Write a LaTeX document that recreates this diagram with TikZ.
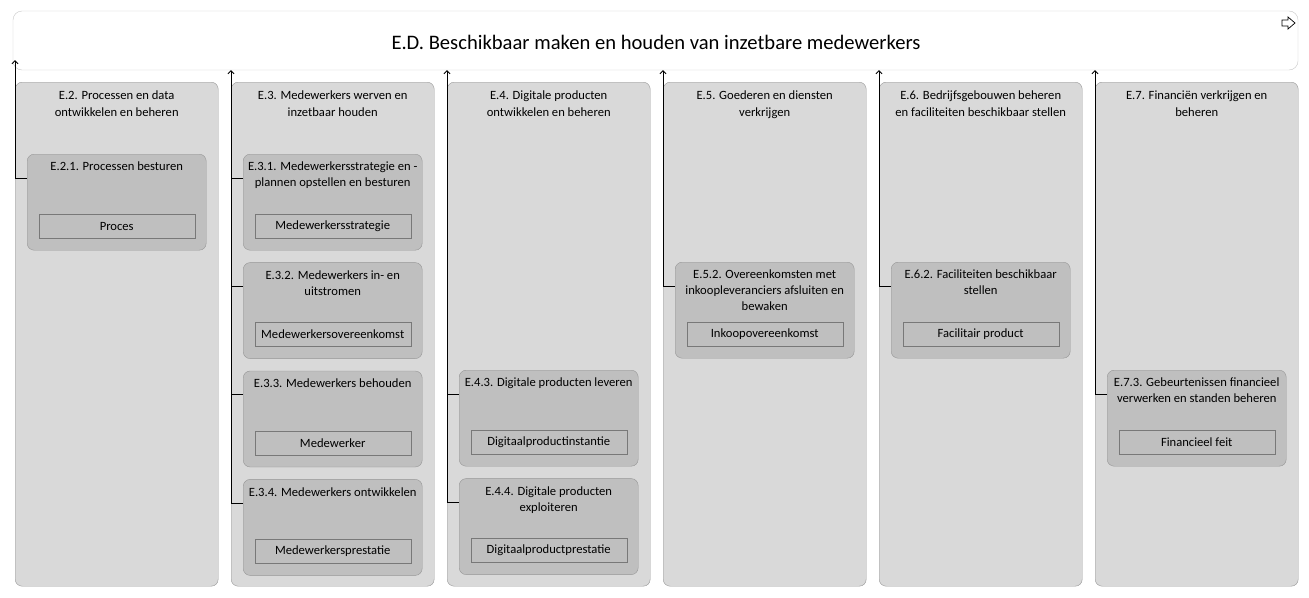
\documentclass[tikz,border=0pt]{standalone}
\usepackage{fontspec}
\setmainfont{Carlito}
\usetikzlibrary{positioning,calc,arrows.meta}
\definecolor{colfill}{RGB}{217,217,217}
\definecolor{subfill}{RGB}{191,191,191}
\definecolor{edge}{RGB}{150,150,150}
\definecolor{topedge}{RGB}{200,200,200}

\begin{document}
\begin{tikzpicture}[x=1pt,y=-1pt]

		\tikzset{line/.style={draw,line width=0.8pt}}
		\tikzset{arrow/.style={line,-{Straight Barb[length=3pt,width=6pt]}}}
		\tikzset{topbox/.style={draw=topedge,fill=white,rounded corners=9pt,minimum width=1285pt,minimum height=59pt,inner sep=0pt}}
		\tikzset{colbox/.style={draw=edge,fill=colfill,rounded corners=7pt,minimum width=203pt,minimum height=504pt,inner sep=0pt,anchor=north west}}
		\tikzset{subbox/.style={draw=edge,fill=subfill,rounded corners=7pt,minimum width=179pt,minimum height=96pt,inner sep=0pt}}
		\tikzset{objbox/.style={draw=edge!80!black,fill=subfill,minimum width=156pt,minimum height=24pt,inner sep=0pt,font=\fontsize{12.6}{15}\selectfont}}
		\tikzset{title/.style={align=center,inner sep=0pt,font=\fontsize{12.6}{16}\selectfont}}

		\useasboundingbox (0,0) rectangle (1309,597);

		% top
		\node[topbox] (ed) at (655.5,40.5) {};
		\node[font=\fontsize{20.6}{24}\selectfont, inner sep=0pt] (edt) at (656,42) {E.D. Beschikbaar maken en houden van inzetbare medewerkers};
		\draw[line width=0.7pt] (1282,20) -- (1288,20) -- (1288,17) -- (1295,23) -- (1288,29) -- (1288,26) -- (1282,26) -- cycle;

		% columns
		\node[colbox] (e2) at (15,82) {};
		\node[colbox, right=12.6pt of e2] (e3) {};
		\node[colbox, right=12.6pt of e3] (e4) {};
		\node[colbox, right=12.6pt of e4] (e5) {};
		\node[colbox, right=12.6pt of e5] (e6) {};
		\node[colbox, right=12.6pt of e6] (e7) {};

		\node[title, below=9pt of e2.north, font=\fontsize{12.6}{17}\selectfont] (e2t) {E.2. Processen en data\\ontwikkelen en beheren};
		\node[title, below=9pt of e3.north, font=\fontsize{12.6}{17}\selectfont] (e3t) {E.3. Medewerkers werven en\\inzetbaar houden};
		\node[title, below=9pt of e4.north, font=\fontsize{12.6}{17}\selectfont] (e4t) {E.4. Digitale producten\\ontwikkelen en beheren};
		\node[title, below=9pt of e5.north, font=\fontsize{12.6}{17}\selectfont] (e5t) {E.5. Goederen en diensten\\verkrijgen};
		\node[title, below=9pt of e6.north, font=\fontsize{12.6}{17}\selectfont] (e6t) {E.6. Bedrijfsgebouwen beheren\\en faciliteiten beschikbaar stellen};
		\node[title, below=9pt of e7.north, font=\fontsize{12.6}{17}\selectfont] (e7t) {E.7. Financiën verkrijgen en\\beheren};

		% processes
		\node[subbox, below right=72pt and 12pt of e2.north west] (e21) {};
		\node[subbox, below right=72pt and 12pt of e3.north west] (e31) {};
		\node[subbox, below=12pt of e31] (e32) {};
		\node[subbox, below=12pt of e32] (e33) {};
		\node[subbox, below=12pt of e33] (e34) {};
		\node[subbox, below right=288pt and 12pt of e4.north west] (e43) {};
		\node[subbox, below=12pt of e43] (e44) {};
		\node[subbox, below right=180pt and 12pt of e5.north west] (e52) {};
		\node[subbox, below right=180pt and 12pt of e6.north west] (e62) {};
		\node[subbox, below right=288pt and 12pt of e7.north west] (e73) {};

		\node[title, below=8pt of e21.north] (e21t) {E.2.1. Processen besturen};
		\node[title, below=8pt of e31.north] (e31t) {E.3.1. Medewerkersstrategie en -\\plannen opstellen en besturen};
		\node[title, below=8pt of e32.north] (e32t) {E.3.2. Medewerkers in- en\\uitstromen};
		\node[title, below=8pt of e33.north] (e33t) {E.3.3. Medewerkers behouden};
		\node[title, below=8pt of e34.north] (e34t) {E.3.4. Medewerkers ontwikkelen};
		\node[title, below=8pt of e43.north] (e43t) {E.4.3. Digitale producten leveren};
		\node[title, below=8pt of e44.north] (e44t) {E.4.4. Digitale producten\\exploiteren};
		\node[title, below=8pt of e52.north] (e52t) {E.5.2. Overeenkomsten met\\inkoopleveranciers afsluiten en\\bewaken};
		\node[title, below=8pt of e62.north] (e62t) {E.6.2. Faciliteiten beschikbaar\\stellen};
		\node[title, below=8pt of e73.north] (e73t) {E.7.3. Gebeurtenissen financieel\\verwerken en standen beheren};

		% objects
		\node[objbox, below=60pt of e21.north] (o21) {Proces};
		\node[objbox, below=60pt of e31.north] (o31) {Medewerkersstrategie};
		\node[objbox, below=60pt of e32.north] (o32) {Medewerkersovereenkomst};
		\node[objbox, below=60pt of e33.north] (o33) {Medewerker};
		\node[objbox, below=60pt of e34.north] (o34) {Medewerkersprestatie};
		\node[objbox, below=60pt of e43.north] (o43) {Digitaalproductinstantie};
		\node[objbox, below=60pt of e44.north] (o44) {Digitaalproductprestatie};
		\node[objbox, below=60pt of e52.north] (o52) {Inkoopovereenkomst};
		\node[objbox, below=60pt of e62.north] (o62) {Facilitair product};
		\node[objbox, below=60pt of e73.north] (o73) {Financieel feit};

		% connectors
		\coordinate[below=24pt of e21.north west] (c21);
		\coordinate[below=24pt of e31.north west] (c31);
		\coordinate[below=24pt of e32.north west] (c32);
		\coordinate[below=24pt of e33.north west] (c33);
		\coordinate[below=24pt of e34.north west] (c34);
		\coordinate[below=24pt of e43.north west] (c43);
		\coordinate[below=24pt of e44.north west] (c44);
		\coordinate[below=24pt of e52.north west] (c52);
		\coordinate[below=24pt of e62.north west] (c62);
		\coordinate[below=24pt of e73.north west] (c73);

		\path[line] (c21) -- (c21 -| e2.west);
		\path[line] (c31) -- (c31 -| e3.west);
		\path[line] (c32) -- (c32 -| e3.west);
		\path[line] (c33) -- (c33 -| e3.west);
		\path[line] (c34) -- (c34 -| e3.west);
		\path[line] (c43) -- (c43 -| e4.west);
		\path[line] (c44) -- (c44 -| e4.west);
		\path[line] (c52) -- (c52 -| e5.west);
		\path[line] (c62) -- (c62 -| e6.west);
		\path[line] (c73) -- (c73 -| e7.west);

		\path[arrow] (c21 -| e2.west) -- ([yshift=10pt]e2.west |- ed.south);
		\path[arrow] (c34 -| e3.west) -- (e3.west |- ed.south);
		\path[arrow] (c44 -| e4.west) -- (e4.west |- ed.south);
		\path[arrow] (c52 -| e5.west) -- (e5.west |- ed.south);
		\path[arrow] (c62 -| e6.west) -- (e6.west |- ed.south);
		\path[arrow] (c73 -| e7.west) -- (e7.west |- ed.south);

\end{tikzpicture}
\end{document}
